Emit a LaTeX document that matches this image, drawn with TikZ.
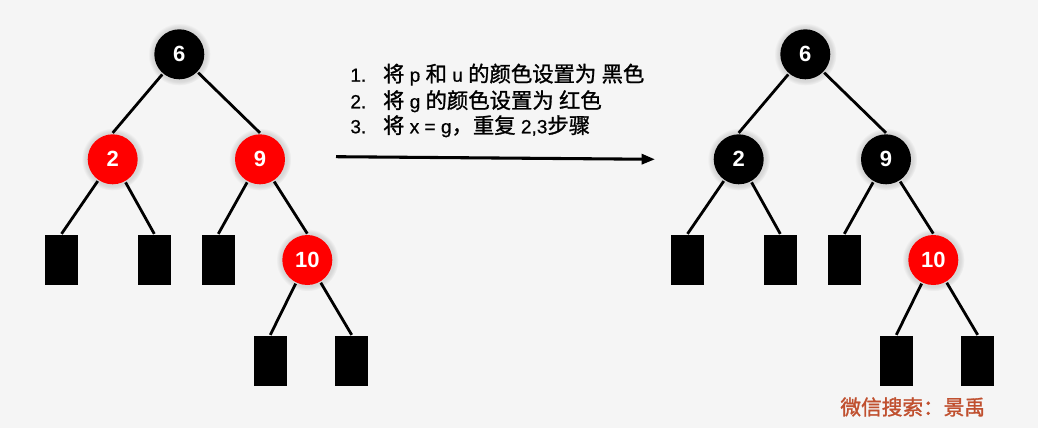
\documentclass[tikz,border=0pt]{standalone}
\usepackage{fontspec}
\setmainfont{Liberation Sans}
\newfontfamily\cjk[Scale=1.12,FakeBold=1.2]{Noto Sans CJK SC}
\newfontfamily\latn[FakeBold=0.6]{Liberation Sans}
\newfontfamily\wmfont[FakeBold=1.5]{Noto Sans CJK SC}
\usetikzlibrary{arrows.meta,shadows}
\definecolor{bg}{HTML}{F5F5F5}
\definecolor{rbred}{HTML}{FF0000}
\definecolor{mark}{HTML}{C0502F}

\begin{document}
\begin{tikzpicture}[x=0.75pt,y=-0.75pt,line width=2.1pt,
	  every circle node/.append style={minimum size=37.5pt,inner sep=0pt,text=white,
	    font=\bfseries\fontsize{16.5}{16.5}\selectfont,
	    circular glow={fill=black,opacity=0.12}},
	  nil/.style={fill=black,minimum width=24.75pt,minimum height=37.5pt,inner sep=0pt}]
	  \tikzstyle{blk} = [circle,fill=black]
	  \tikzstyle{rednode} = [circle,fill=rbred]
	  \tikzstyle{word} = [font=\latn\fontsize{14.3}{14.3}\selectfont,color=black,anchor=base west,inner sep=0pt]
	  \fill[bg] (0,0) rectangle (1038,428);
	  \useasboundingbox (0,0) rectangle (1038,428);
	  % before
	  \node (1_6) [blk] at (179.3,54.3) {6};
	  \node (1_2) [rednode] at (112.7,159.3) {2};
	  \node (1_9) [rednode] at (260,159.3) {9};
	  \node (1_10) [rednode] at (307.3,260) {10};
	  \node (1_n1) [nil] at (61.5,260.3) {};
	  \node (1_n2) [nil] at (154.3,260.3) {};
	  \node (1_n3) [nil] at (218.3,260.3) {};
	  \node (1_n4) [nil] at (270.3,361.3) {};
	  \node (1_n5) [nil] at (351.7,361.3) {};
	  \draw (1_6) to (1_2.north);
	  \draw (1_6) to (1_9.north);
	  \draw (1_2) to (1_n1.north);
	  \draw (1_2) to (1_n2.north);
	  \draw (1_9) to (1_n3.north);
	  \draw (1_9) to (1_10.north);
	  \draw (1_10) to (1_n4.north);
	  \draw (1_10) to (1_n5.north);
	  % after
	  \node (2_6) [blk] at (805.3,54.3) {6};
	  \node (2_2) [blk] at (738.7,159.3) {2};
	  \node (2_9) [blk] at (886,159.3) {9};
	  \node (2_10) [rednode] at (933.3,260) {10};
	  \node (2_n1) [nil] at (687.5,260.3) {};
	  \node (2_n2) [nil] at (780.3,260.3) {};
	  \node (2_n3) [nil] at (844.3,260.3) {};
	  \node (2_n4) [nil] at (896.3,361.3) {};
	  \node (2_n5) [nil] at (977.7,361.3) {};
	  \draw (2_6) to (2_2.north);
	  \draw (2_6) to (2_9.north);
	  \draw (2_2) to (2_n1.north);
	  \draw (2_2) to (2_n2.north);
	  \draw (2_9) to (2_n3.north);
	  \draw (2_9) to (2_10.north);
	  \draw (2_10) to (2_n4.north);
	  \draw (2_10) to (2_n5.north);
	  % steps
	  \node (s1) [word] at (349,81.7) {\makebox[24.5pt][l]{1.}{\cjk 将} p {\cjk 和} u {\cjk 的颜色设置为} {\cjk 黑色}};
	  \node (s2) [word] at (349,108.3) {\makebox[24.5pt][l]{2.}{\cjk 将} g {\cjk 的颜色设置为} {\cjk 红色}};
	  \node (s3) [word] at (349,133.3) {\makebox[24.5pt][l]{3.}{\cjk 将} x = g{\cjk ，重复} 2,3{\cjk 步骤}};
	  \coordinate (a1) at (336,156.7);
	  \coordinate (a2) at (655,159.3);
	  \draw[-{Triangle[length=10pt,width=7.5pt]},line width=2.3pt] (a1) to (a2);
	  \node (wm) [anchor=west,text=mark,inner sep=0pt,font=\wmfont\fontsize{15.5}{15.5}\selectfont] at (839,407) {微信搜索：景禹};
	\end{tikzpicture}
\end{document}
